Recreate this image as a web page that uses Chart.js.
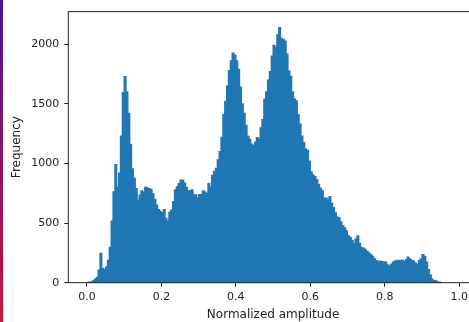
<!DOCTYPE html>
<html>
<head>
<meta charset="utf-8">
<script src="https://cdn.jsdelivr.net/npm/chart.js@4"></script>
<style>
  html, body { margin:0; padding:0; background:#fff; overflow:hidden; }
  #wrap { position:relative; width:480px; height:322px; }
  #strip { position:absolute; left:0; top:0; width:3px; height:322px;
           background:linear-gradient(#4a1690, #c8143a); z-index:2; }
</style>
</head>
<body>
<div id="wrap">
  <div id="strip"></div>
  <canvas id="hist"></canvas>
</div>
<script>
/* histogram */
const BIN_START = 0;
const BIN_WIDTH = 0.005;
const counts = [
  0, 3, 8, 15, 30, 45, 105, 247, 120, 110,
  130, 187, 297, 517, 762, 990, 805, 920, 1230, 1595,
  1728, 1600, 1420, 1160, 956, 875, 790, 690, 735, 770,
  760, 800, 795, 790, 780, 745, 700, 650, 613, 599,
  585, 613, 540, 517, 590, 610, 680, 778, 805, 832,
  860, 860, 835, 800, 770, 770, 778, 737, 737, 709,
  740, 740, 770, 760, 750, 832, 805, 900, 935, 960,
  1030, 1100, 1220, 1410, 1520, 1650, 1780, 1860, 1925, 1910,
  1860, 1790, 1640, 1500, 1420, 1320, 1230, 1203, 1162, 1149,
  1180, 1217, 1203, 1299, 1368, 1540, 1600, 1700, 1770, 1900,
  1990, 1973, 2080, 2140, 2050, 2041, 2027, 1917, 1775, 1730,
  1600, 1540, 1525, 1410, 1330, 1230, 1176, 1121, 1110, 1020,
  930, 905, 890, 865, 825, 791, 770, 709, 709, 695,
  723, 667, 630, 585, 550, 544, 510, 478, 461, 434,
  393, 380, 355, 324, 366, 393, 330, 297, 290, 280,
  262, 250, 235, 220, 200, 185, 175, 181, 178, 173,
  173, 150, 140, 154, 173, 181, 187, 185, 187, 187,
  179, 193, 214, 201, 187, 181, 165, 154, 185, 200,
  236, 220, 173, 110, 63, 30, 18, 15, 5, 3
];
const xTicks = [0, 0.2, 0.4, 0.6, 0.8, 1.0];
const yTicks = [0, 500, 1000, 1500, 2000];

const X_MIN = -0.05, X_MAX = 1.05;
const Y_MAX = 2274;
const BAR = "#1f77b4";
const INK = "#222";
const FONT = "'DejaVu Sans', sans-serif";

// bars sit centred on each bin
const points = counts.map((c, i) => ({ x: BIN_START + (i + 0.5) * BIN_WIDTH, y: c }));

// matplotlib style box round the axes
const frame = {
  id: "frame",
  afterDraw(c) {
    const a = c.chartArea, g = c.ctx;
    g.save();
    g.strokeStyle = INK;
    g.lineWidth = 1;
    g.strokeRect(a.left, a.top, a.right - a.left, a.bottom - a.top);
    g.restore();
  }
};

new Chart(document.getElementById("hist"), {
  type: "bar",
  data: {
    datasets: [{
      data: points,
      backgroundColor: BAR,
      borderWidth: 0,
      inflateAmount: 0.6,
      barPercentage: 1,
      categoryPercentage: 1
    }]
  },
  options: {
    responsive: true,
    maintainAspectRatio: false,
    animation: false,
    layout: { padding: { top: 6.7, right: 2.1, bottom: 0, left: 0 } },
    plugins: { legend: { display: false }, tooltip: { enabled: false } },
    scales: {
      x: {
        type: "linear",
        min: X_MIN, max: X_MAX,
        offset: false,
        afterBuildTicks: s => { s.ticks = xTicks.map(v => ({ value: v })); },
        afterFit: s => { s.height = 39.3; },
        grid: { display: true, offset: false, drawOnChartArea: false, drawTicks: true, tickLength: 4, color: INK },
        border: { display: false },
        ticks: { color: INK, font: { family: FONT, size: 11 }, padding: 4,
                 maxRotation: 0, autoSkip: false, callback: v => v.toFixed(1) },
        title: { display: true, text: "Normalized amplitude", color: INK,
                 font: { family: FONT, size: 12 }, padding: { top: 0, bottom: 0 } }
      },
      y: {
        min: 0, max: Y_MAX,
        afterBuildTicks: s => { s.ticks = yTicks.map(v => ({ value: v })); },
        afterFit: s => { s.width = 68.3; },
        grid: { display: true, drawOnChartArea: false, drawTicks: true, tickLength: 4, color: INK },
        border: { display: false },
        ticks: { color: INK, font: { family: FONT, size: 11 }, padding: 5,
                 callback: v => String(v) },
        title: { display: true, text: "Frequency", color: INK,
                 font: { family: FONT, size: 12 }, padding: { top: 9.5, bottom: 0 } }
      }
    }
  },
  plugins: [frame]
});
</script>
</body>
</html>
